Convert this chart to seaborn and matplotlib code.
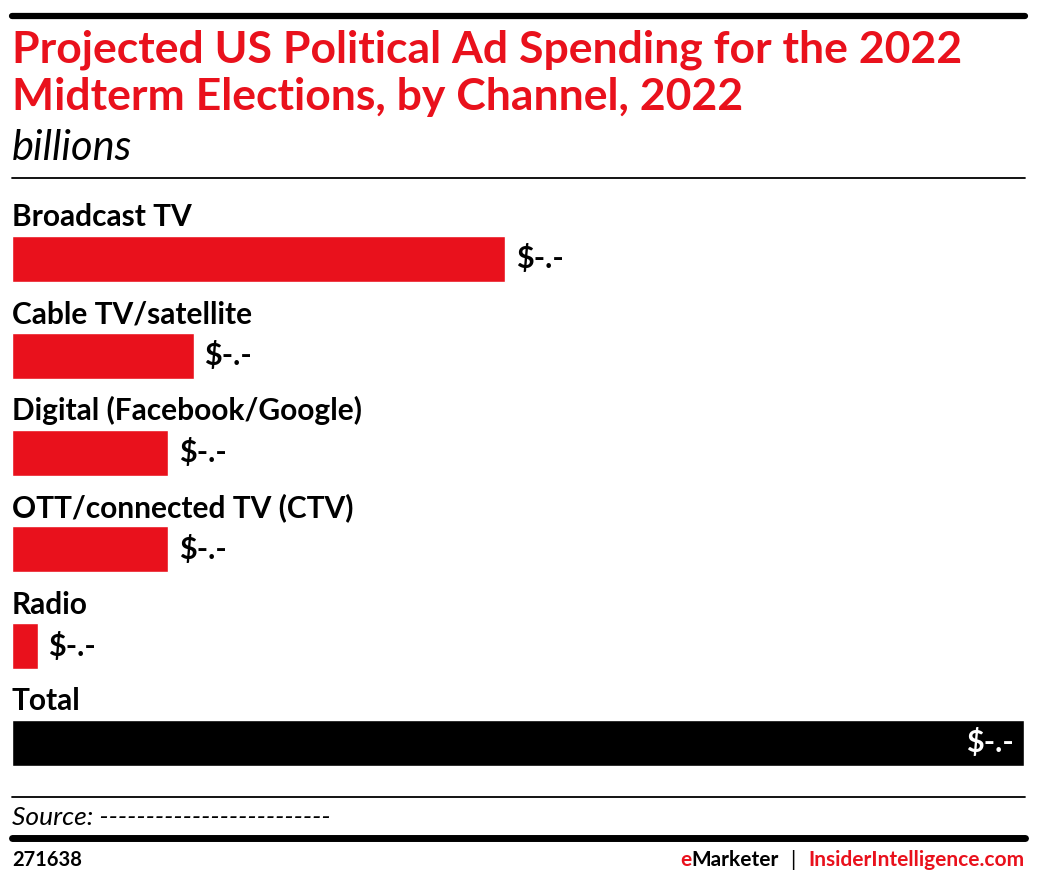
import matplotlib
matplotlib.use('Agg')
import matplotlib.pyplot as plt
import seaborn as sns
from matplotlib.lines import Line2D

# Chart data (labels masked in the source)
channels = ['Broadcast TV', 'Cable TV/satellite', 'Digital (Facebook/Google)',
            'OTT/connected TV (CTV)', 'Radio', 'Total']
spend = [4.73, 1.74, 1.50, 1.50, 0.25, 9.70]
value_labels = ['$-.-', '$-.-', '$-.-', '$-.-', '$-.-', '$-.-']
bar_colors = ['#E9111C', '#E9111C', '#E9111C', '#E9111C', '#E9111C', '#000000']

title_lines = ['Projected US Political Ad Spending for the 2022',
               'Midterm Elections, by Channel, 2022']
subtitle = 'billions'
source_text = 'Source: -------------------------'
chart_id = '271638'

RED = '#E9111C'
W, H = 1038, 884

sns.set_theme(style='white')
plt.rcParams['font.family'] = ['Lato', 'DejaVu Sans']

fig = plt.figure(figsize=(W / 100, H / 100), dpi=100)


def fx(px):
    return px / W


def fy(py):
    return 1 - py / H


# Axes for the bars: slot height ~96.8 px, first bar centre at 259 px
slot = 96.8
top_px = 259 - slot / 2
bot_px = 743 + slot / 2
ax = fig.add_axes([fx(12), fy(bot_px), fx(1024) - fx(12), (bot_px - top_px) / H])

bar_h = 46 / slot
sns.barplot(x=spend, y=channels, hue=channels, palette=bar_colors, legend=False,
            width=bar_h, orient='h', saturation=1, ax=ax)
ax.set_xlim(0, spend[-1])
ax.set_ylim(len(channels) - 0.5, -0.5)
ax.axis('off')

for i, (name, val, lab) in enumerate(zip(channels, spend, value_labels)):
    ax.text(0, i - bar_h / 2 - 0.1, name, fontsize=21.5, fontweight='bold',
            color='black', ha='left', va='baseline')
    if i == len(channels) - 1:
        ax.text(val - spend[-1] * 0.01, i, lab, fontsize=22, fontweight='bold',
                color='white', ha='right', va='center')
    else:
        ax.text(val + spend[-1] * 0.01, i, lab, fontsize=22, fontweight='bold',
                color='black', ha='left', va='center')

# Rules
fig.add_artist(Line2D([fx(12), fx(1025)], [fy(16), fy(16)], color='black', lw=4.5))
fig.add_artist(Line2D([fx(12), fx(1025)], [fy(178), fy(178)], color='black', lw=1.3))
fig.add_artist(Line2D([fx(12), fx(1025)], [fy(797), fy(797)], color='black', lw=1.3))
fig.add_artist(Line2D([fx(12), fx(1025)], [fy(838), fy(838)], color='black', lw=5))

# Title and subtitle
fig.text(fx(12), fy(63), title_lines[0], fontsize=32, fontweight='bold', color=RED,
         ha='left', va='baseline')
fig.text(fx(12), fy(110), title_lines[1], fontsize=32, fontweight='bold', color=RED,
         ha='left', va='baseline')
fig.text(fx(12), fy(160), subtitle, fontsize=30, style='italic', color='black',
         ha='left', va='baseline')

# Source and footer
fig.text(fx(12), fy(825), source_text, fontsize=19, style='italic', color='black',
         ha='left', va='baseline')
fig.text(fx(12), fy(866), chart_id, fontsize=14.5, fontweight='bold', color='black',
         ha='left', va='baseline')

fig.canvas.draw()
renderer = fig.canvas.get_renderer()
inv = fig.transFigure.inverted()

t_site = fig.text(fx(1024), fy(866), 'InsiderIntelligence.com', fontsize=15,
                  fontweight='bold', color=RED, ha='right', va='baseline')
x0 = inv.transform(t_site.get_window_extent(renderer))[0][0]
t_bar = fig.text(x0 - fx(12), fy(866), '|', fontsize=15, color='black',
                 ha='right', va='baseline')
x0 = inv.transform(t_bar.get_window_extent(renderer))[0][0]
t_mk = fig.text(x0 - fx(12), fy(866), 'Marketer', fontsize=15, fontweight='bold',
                color='black', ha='right', va='baseline')
x0 = inv.transform(t_mk.get_window_extent(renderer))[0][0]
fig.text(x0, fy(866), 'e', fontsize=15, fontweight='bold', color=RED,
         ha='right', va='baseline')

fig.savefig('out.png', dpi=100)
